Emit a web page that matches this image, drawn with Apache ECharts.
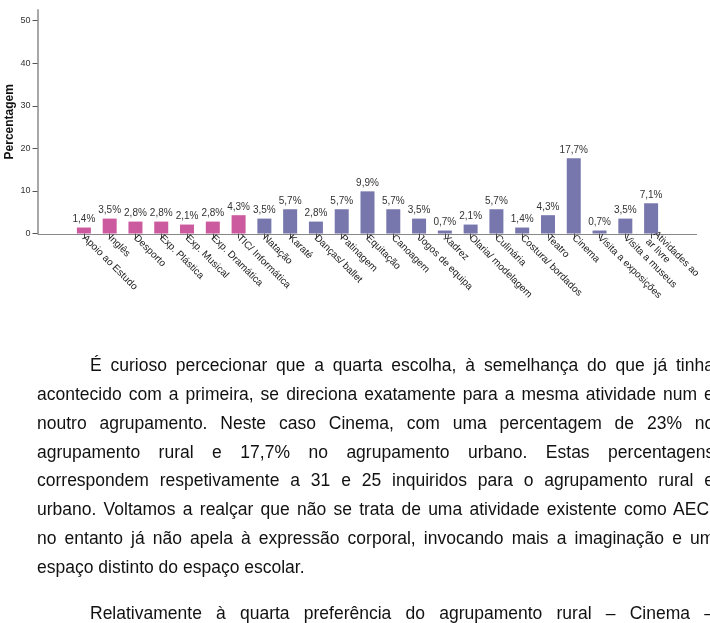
<!DOCTYPE html>
<html>
<head>
<meta charset="utf-8">
<script src="https://cdn.jsdelivr.net/npm/echarts@6/dist/echarts.min.js"></script>
<style>
  html, body { margin: 0; padding: 0; background: #fff; width: 710px; height: 623px; overflow: hidden; }
  #chart { position: absolute; left: 0; top: 0; width: 710px; height: 623px; }
  .ln { position: absolute; white-space: nowrap; font-family: "Liberation Sans", Arial, sans-serif; font-size: 17.5px; line-height: 20px; color: #111; transform-origin: 0 50%; }
</style>
</head>
<body>
<div id="chart"></div>
<div id="text"></div>
<script>
// ---- data ----
const categories = [
  "Apoio ao Estudo", "Inglês", "Desporto", "Exp. Plástica", "Exp. Musical",
  "Exp. Dramática", "TIC/ Informática", "Natação", "Karaté", "Danças/ ballet",
  "Patinagem", "Equitação", "Canoagem", "Jogos de equipa", "Xadrez",
  "Olaria/ modelagem", "Culinária", "Costura/ bordados", "Teatro", "Cinema",
  "Visita a exposições", "Visita a museus", "Atividades ao\nar livre"
];
const percentages = [1.4, 3.5, 2.8, 2.8, 2.1, 2.8, 4.3, 3.5, 5.7, 2.8, 5.7, 9.9, 5.7, 3.5, 0.7, 2.1, 5.7, 1.4, 4.3, 17.7, 0.7, 3.5, 7.1];
// group: "aec" = first block (pink), "outra" = remaining (purple)
const groups = ["aec","aec","aec","aec","aec","aec","aec",
  "outra","outra","outra","outra","outra","outra","outra","outra","outra","outra","outra","outra","outra","outra","outra","outra"];
const yTicks = [0, 10, 20, 30, 40, 50];
const yAxisTitle = "Percentagem";

const paragraphLines = [
  { t: "É curioso percecionar que a quarta escolha, à semelhança do que já tinha", indent: true, justify: true },
  { t: "acontecido com a primeira, se direciona exatamente para a mesma atividade num e", justify: true },
  { t: "noutro agrupamento. Neste caso Cinema, com uma percentagem de 23% no", justify: true },
  { t: "agrupamento rural e 17,7% no agrupamento urbano. Estas percentagens", justify: true },
  { t: "correspondem respetivamente a 31 e 25 inquiridos para o agrupamento rural e", justify: true },
  { t: "urbano. Voltamos a realçar que não se trata de uma atividade existente como AEC,", justify: true },
  { t: "no entanto já não apela à expressão corporal, invocando mais a imaginação e um", justify: true },
  { t: "espaço distinto do espaço escolar.", justify: false },
  { t: "Relativamente à quarta preferência do agrupamento rural – Cinema –", indent: true, justify: true, newPara: true }
];

// ---- styles ----
const groupColors = { aec: "#cc5a9f", outra: "#7777ad" };
const FONT = "'Liberation Sans', Arial, sans-serif";

const chart = echarts.init(document.getElementById('chart'), null, { renderer: 'canvas' });

const option = {
  animation: false,
  backgroundColor: '#fff',
  grid: { left: 71, right: 46, top: 10, bottom: 389.5, containLabel: false, outerBoundsMode: 'none' },
  xAxis: {
    type: 'category',
    data: categories,
    boundaryGap: true,
    axisLine: { show: false },
    axisTick: { show: true, alignWithLabel: true, interval: 0, length: 5, lineStyle: { color: '#444', width: 1 } },
    axisLabel: { interval: 0, rotate: -45, fontSize: 10, margin: 3, color: '#222', fontFamily: FONT, lineHeight: 11 }
  },
  yAxis: {
    type: 'value',
    min: 0, max: 52.5, interval: 10,
    offset: 33.5,
    name: yAxisTitle,
    nameLocation: 'middle',
    nameGap: 22,
    nameMoveOverlap: false,
    nameTextStyle: { fontSize: 12, fontWeight: 'bold', color: '#111', fontFamily: FONT },
    axisLine: { show: true, lineStyle: { color: '#a8a8a8', width: 2 } },
    axisTick: { show: true, length: 5, lineStyle: { color: '#555' }, customValues: yTicks },
    axisLabel: { fontSize: 9, color: '#333', margin: 7, fontFamily: FONT, customValues: yTicks },
    splitLine: { show: false }
  },
  series: [{
    type: 'bar',
    barWidth: 14,
    data: percentages.map((v, i) => ({ value: v, itemStyle: { color: groupColors[groups[i]] } })),
    label: {
      show: true, position: 'top', distance: 3, fontSize: 10, color: '#333', fontFamily: FONT,
      formatter: p => String(p.value).replace('.', ',') + '%'
    }
  }]
};
chart.setOption(option);

// extended x-axis baseline (spans from the y axis to the right end of the plot frame)
const y0 = chart.convertToPixel({ yAxisIndex: 0 }, 0);
chart.setOption({
  graphic: [{
    type: 'line', z: 0,
    shape: { x1: 37.5, y1: Math.round(y0) + 0.5, x2: 697, y2: Math.round(y0) + 0.5 },
    style: { stroke: '#888', lineWidth: 1 }
  }]
});

// ---- paragraph text (justified lines) ----
const textBox = document.getElementById('text');
const LEFT = 37, RIGHT = 714, INDENT = 53, SX = 1;
const firstCenter = 367, lineStep = 28.8, paraExtra = 17;
let yc = firstCenter;
paragraphLines.forEach((ln, i) => {
  if (i > 0) yc += lineStep + (ln.newPara ? paraExtra : 0);
  const d = document.createElement('div');
  d.className = 'ln';
  d.textContent = ln.t;
  const x = LEFT + (ln.indent ? INDENT : 0);
  d.style.left = x + 'px';
  d.style.top = (yc - 11.8) + 'px';
  d.style.transform = 'scaleX(' + SX + ')';
  textBox.appendChild(d);
  if (ln.justify) {
    const target = (RIGHT - x) / SX;
    const natural = d.offsetWidth;
    const spaces = (ln.t.match(/ /g) || []).length;
    if (spaces > 0) d.style.wordSpacing = ((target - natural) / spaces) + 'px';
  }
});
</script>
</body>
</html>
